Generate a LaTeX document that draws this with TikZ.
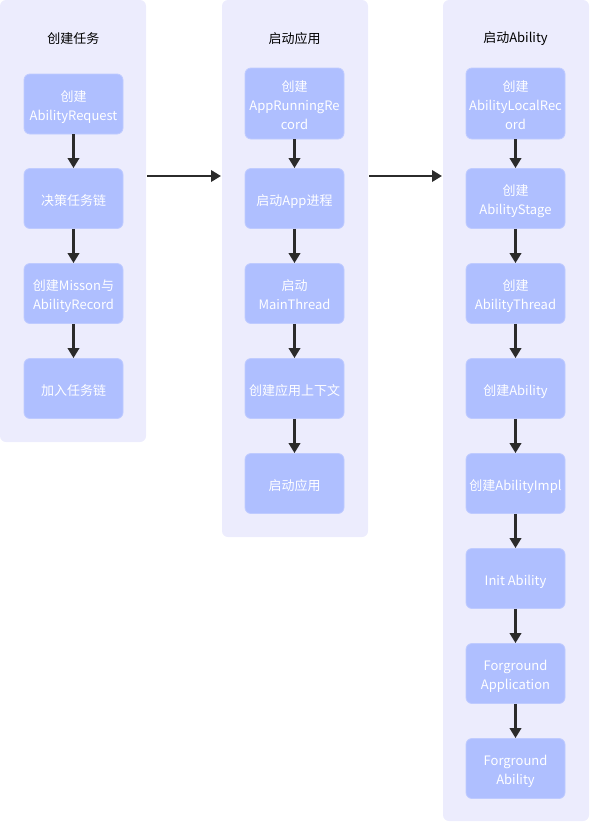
\documentclass[tikz,border=0pt]{standalone}
\usepackage{fontspec}
\setmainfont{Noto Sans CJK SC}
\usetikzlibrary{arrows.meta}
\definecolor{boxbg}{HTML}{ECECFD}
\definecolor{nodefill}{HTML}{AFBFFF}
\definecolor{nodeline}{HTML}{BFCBFF}
\definecolor{arrowc}{HTML}{2B2B2B}
\newcommand{\topst}{\rule{0pt}{12.5pt}}
\newcommand{\botst}{\rule[-2.2pt]{0pt}{0pt}}
\begin{document}
\begin{tikzpicture}[x=0.75pt,y=-0.75pt,
 lane/.style={fill=boxbg, rounded corners=4.5pt, draw=none},
 stepbox/.style={rectangle, rounded corners=4.5pt, fill=nodefill, draw=nodeline, line width=0.6pt,
   minimum width=74.25pt, minimum height=45pt, inner sep=0pt, align=center, text=white,
   font=\fontsize{9.75}{14.25}\selectfont},
 tallbox/.style={stepbox, minimum height=53.25pt},
 lanetitle/.style={font=\fontsize{9.75}{14.25}\selectfont, text=black, inner sep=0pt},
 flow/.style={draw=arrowc, line width=2.2pt, -{Triangle[length=7.5pt,width=8.5pt]}}]

\useasboundingbox (0,0) rectangle (590,822);

% lanes
\path[lane] (0,0) rectangle (146,442);
\path[lane] (222,0) rectangle (368,537);
\path[lane] (443,0) rectangle (589,821);

\node[lanetitle] (t1) at (73.5,38.5) {创建任务};
\node[lanetitle] (t2) at (294.5,38.5) {启动应用};
\node[lanetitle] (t3) at (515.5,38.5) {启动Ability};

% column 1
\node[stepbox] (a1) at (73.5,104) {\topst 创建\\AbilityRequest\botst};
\node[stepbox] (a2) at (73.5,198.5) {\topst 决策任务链\botst};
\node[stepbox] (a3) at (73.5,293.5) {\topst 创建Misson与\\AbilityRecord\botst};
\node[stepbox] (a4) at (73.5,388.5) {\topst 加入任务链\botst};

% column 2
\node[tallbox] (b1) at (294.5,103.5) {\topst 创建\\AppRunningRe\\cord\botst};
\node[stepbox] (b2) at (294.5,198.5) {\topst 启动App进程\botst};
\node[stepbox] (b3) at (294.5,293.5) {\topst 启动\\MainThread\botst};
\node[stepbox] (b4) at (294.5,388.5) {\topst 创建应用上下文\botst};
\node[stepbox] (b5) at (294.5,483.5) {\topst 启动应用\botst};

% column 3
\node[tallbox] (c1) at (515.5,103.5) {\topst 创建\\AbilityLocalRec\\ord\botst};
\node[stepbox] (c2) at (515.5,198.5) {\topst 创建\\AbilityStage\botst};
\node[stepbox] (c3) at (515.5,293.5) {\topst 创建\\AbilityThread\botst};
\node[stepbox] (c4) at (515.5,388.5) {\topst 创建Ability\botst};
\node[stepbox] (c5) at (515.5,483.5) {\topst 创建AbilityImpl\botst};
\node[stepbox] (c6) at (515.5,578.5) {\topst Init Ability\botst};
\node[stepbox] (c7) at (515.5,673.5) {\topst Forground\\Application\botst};
\node[stepbox] (c8) at (515.5,768.5) {\topst Forground\\Ability\botst};

% inner arrows
\draw[flow] (a1) -- (a2);
\draw[flow] (a2) -- (a3);
\draw[flow] (a3) -- (a4);
\draw[flow] (b1) -- (b2);
\draw[flow] (b2) -- (b3);
\draw[flow] (b3) -- (b4);
\draw[flow] (b4) -- (b5);
\draw[flow] (c1) -- (c2);
\draw[flow] (c2) -- (c3);
\draw[flow] (c3) -- (c4);
\draw[flow] (c4) -- (c5);
\draw[flow] (c5) -- (c6);
\draw[flow] (c6) -- (c7);
\draw[flow] (c7) -- (c8);

% lane-to-lane arrows
\coordinate (l1out) at (147,176);
\coordinate (l2in) at (221,176);
\coordinate (l2out) at (369,176);
\coordinate (l3in) at (442,176);
\draw[flow] (l1out) -- (l2in);
\draw[flow] (l2out) -- (l3in);
\end{tikzpicture}
\end{document}
